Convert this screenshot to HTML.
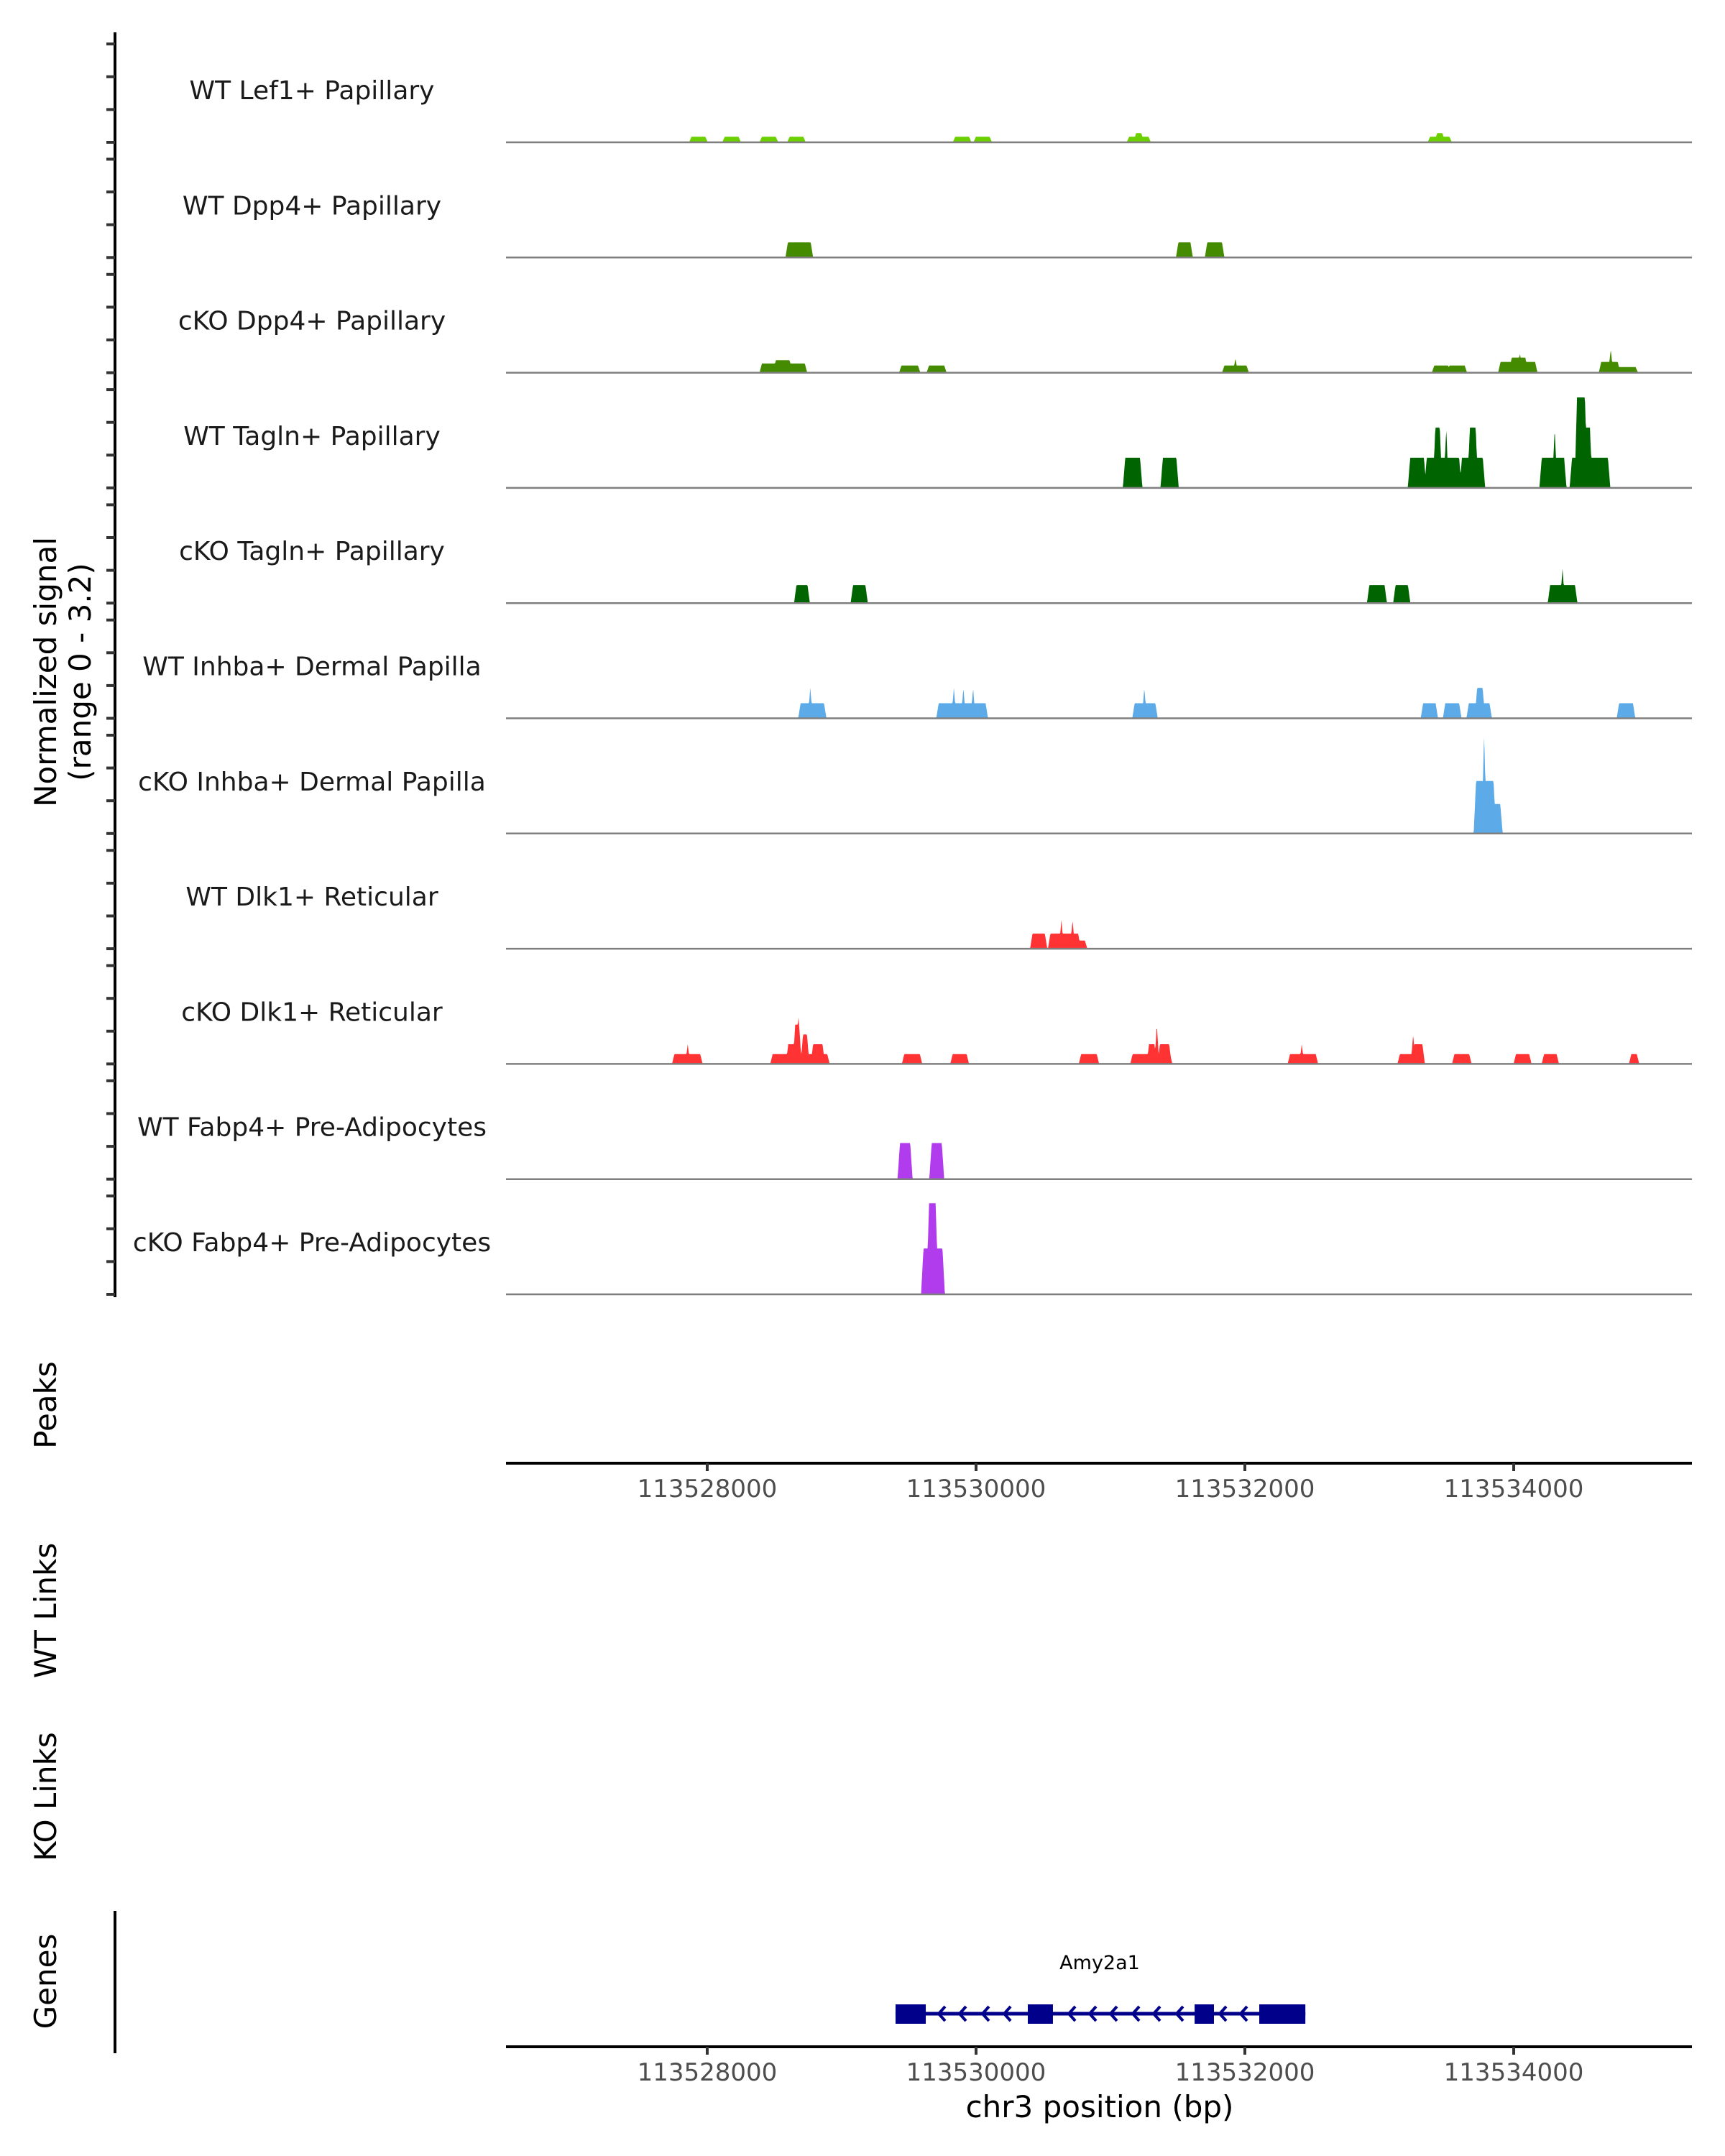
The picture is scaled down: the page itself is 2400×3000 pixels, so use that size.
<!DOCTYPE html>
<html><head><meta charset="utf-8"><style>
html,body{margin:0;padding:0;background:#fff;}
svg{display:block;}
text{font-family:"DejaVu Sans","Liberation Sans",sans-serif;}
</style></head><body>
<svg id="chart" width="2400" height="3000" viewBox="0 0 2400 3000" xmlns="http://www.w3.org/2000/svg">
<g id="tracks"></g>
<line x1="160" y1="45" x2="160" y2="1805" stroke="#000" stroke-width="4"/>
<g id="yticks"></g>
<text transform="translate(78,935) rotate(-90)" text-anchor="middle" font-size="42" fill="#000">Normalized signal</text>
<text transform="translate(126,935) rotate(-90)" text-anchor="middle" font-size="42" fill="#000">(range 0 - 3.2)</text>
<text transform="translate(78,1955) rotate(-90)" text-anchor="middle" font-size="42" fill="#000">Peaks</text>
<g id="axis1"></g>
<text transform="translate(78,2241) rotate(-90)" text-anchor="middle" font-size="42" fill="#000">WT Links</text>
<text transform="translate(78,2500) rotate(-90)" text-anchor="middle" font-size="42" fill="#000">KO Links</text>
<text transform="translate(78,2757) rotate(-90)" text-anchor="middle" font-size="42" fill="#000">Genes</text>
<line x1="160" y1="2659" x2="160" y2="2857" stroke="#000" stroke-width="4"/>
<g id="gene"></g>
<g id="axis2"></g>
<text x="1530" y="2946" text-anchor="middle" font-size="42" fill="#000">chr3 position (bp)</text>
</svg>
<script>
const NS="http://www.w3.org/2000/svg";
const trackNames=["WT Lef1+ Papillary","WT Dpp4+ Papillary","cKO Dpp4+ Papillary","WT Tagln+ Papillary","cKO Tagln+ Papillary","WT Inhba+ Dermal Papilla","cKO Inhba+ Dermal Papilla","WT Dlk1+ Reticular","cKO Dlk1+ Reticular","WT Fabp4+ Pre-Adipocytes","cKO Fabp4+ Pre-Adipocytes"];
const trackColors=["#6CCF00","#458B00","#458B00","#006400","#006400","#5DAAE8","#5DAAE8","#FF3333","#FF3333","#B03CEE","#B03CEE"];
const xTicks=[113528000,113530000,113532000,113534000];
const xTickLabels=["113528000","113530000","113532000","113534000"];
const yTicks=[0,1,2,3];
const regionStart=113526503, regionEnd=113535326;
// peaks: [startBp, endBp, signal]
const lef1WT=[[113527883,113527986,0.17],[113528130,113528233,0.17],[113528407,113528510,0.17],[113528613,113528715,0.17],[113529845,113529948,0.17],[113529999,113530101,0.17],[113531139,113531283,0.17],[113531190,113531230,0.28],[113533378,113533522,0.17],[113533430,113533470,0.28]];
const dpp4WT=[[113528600,113528770,0.46],[113531505,113531595,0.46],[113531720,113531830,0.46]];
const dpp4KO=[[113528407,113528726,0.28],[113528510,113528613,0.38],[113529445,113529568,0.22],[113529650,113529763,0.22],[113531848,113532012,0.22],[113531930,113531930,0.44],[113533409,113533512,0.22],[113533522,113533635,0.22],[113533902,113534159,0.33],[113533985,113534087,0.46],[113534046,113534046,0.6],[113534651,113534774,0.33],[113534722,113534722,0.72],[113534774,113534907,0.17]];
const taglnWT=[[113531110,113531220,0.92],[113531390,113531490,0.92],[113533230,113533332,0.92],[113533353,113533594,0.92],[113533417,113533450,1.84],[113533498,113533498,1.84],[113533615,113533770,0.92],[113533674,113533717,1.84],[113534209,113534375,0.92],[113534305,113534305,1.84],[113534434,113534567,0.92],[113534471,113534530,2.76],[113534530,113534567,1.84],[113534572,113534701,0.92]];
const taglnKO=[[113528664,113528746,0.55],[113529085,113529177,0.55],[113532926,113533039,0.55],[113533121,113533213,0.55],[113534271,113534456,0.55],[113534363,113534363,1.05]];
const inhbaWT=[[113528695,113528869,0.46],[113528767,113528767,0.93],[113529722,113530071,0.46],[113529835,113529835,0.93],[113529906,113529906,0.93],[113529978,113529978,0.93],[113531180,113531334,0.46],[113531252,113531252,0.93],[113533326,113533419,0.46],[113533491,113533594,0.46],[113533666,113533820,0.46],[113533728,113533769,0.93],[113534784,113534887,0.46]];
const inhbaKO=[[113533720,113533850,1.6],[113533850,113533900,0.9],[113533780,113533780,3.1]];
const dlk1WT=[[113530420,113530512,0.46],[113530553,113530760,0.46],[113530760,113530810,0.25],[113530635,113530635,0.88],[113530718,113530718,0.88]];
const dlk1KO=[[113527756,113527948,0.3],[113527855,113527855,0.6],[113528487,113528893,0.3],[113528603,113528643,0.6],[113528655,113528684,1.2],[113528678,113528678,1.5],[113528713,113528742,0.9],[113528788,113528858,0.6],[113529466,113529582,0.3],[113529826,113529930,0.3],[113530782,113530898,0.3],[113531165,113531443,0.3],[113531287,113531327,0.6],[113531345,113531345,1.2],[113531368,113531437,0.6],[113532336,113532527,0.3],[113532423,113532423,0.6],[113533153,113533321,0.3],[113533252,113533252,0.9],[113533260,113533321,0.6],[113533559,113533669,0.3],[113534017,113534115,0.3],[113534226,113534319,0.3],[113534875,113534916,0.3]];
const fabp4WT=[[113529434,113529510,1.1],[113529670,113529745,1.1]];
const fabp4KO=[[113529609,113529750,1.4],[113529650,113529700,2.78]];
const trackPeaks=[lef1WT,dpp4WT,dpp4KO,taglnWT,taglnKO,inhbaWT,inhbaKO,dlk1WT,dlk1KO,fabp4WT,fabp4KO];
const geneExons=[[113529401,113529626],[113530385,113530572],[113531626,113531770],[113532107,113532450]];
const geneStrandArrows=[113529738,113529893,113530064,113530225,113530706,113530861,113531016,113531182,113531337,113531508,113531829,113531984];

const X0=704,X1=2354;
function xs(bp){return X0+(bp-regionStart)/(regionEnd-regionStart)*(X1-X0);}
const trackStep=160.3,pxPerUnit=45.6;
function baseY(i){return 198+i*trackStep;}
function ys(i,v){return baseY(i)-v*pxPerUnit;}
function sig(peaks,bp){let m=0;for(const p of peaks){const r=18;let v=0;
 if(bp>=p[0]&&bp<=p[1])v=p[2];else if(bp<p[0]&&bp>p[0]-r)v=p[2]*(bp-(p[0]-r))/r;else if(bp>p[1]&&bp<p[1]+r)v=p[2]*((p[1]+r)-bp)/r;
 if(v>m)m=v;}return m;}
const tracksG=document.getElementById('tracks');
const ytG=document.getElementById('yticks');
trackNames.forEach((name,i)=>{
 const g=document.createElementNS(NS,'g');
 
 
 tracksG.appendChild(g);
 const t=document.createElementNS(NS,'text');
 
 
 t.setAttribute('x',434);t.setAttribute('y',baseY(i)-60);t.setAttribute('text-anchor','middle');t.setAttribute('font-size','36');t.setAttribute('fill','#1a1a1a');
 t.textContent=name;g.appendChild(t);
 let d='M'+xs(regionStart)+','+baseY(i);
 for(let bp=regionStart;bp<=regionEnd;bp+=4){d+=' L'+xs(bp).toFixed(1)+','+ys(i,sig(trackPeaks[i],bp)).toFixed(1);}
 d+=' L'+xs(regionEnd)+','+baseY(i)+' Z';
 const p=document.createElementNS(NS,'path');
 
 
 p.setAttribute('d',d);p.setAttribute('fill',trackColors[i]);g.appendChild(p);
 const l=document.createElementNS(NS,'line');
 
 
 l.setAttribute('x1',X0);l.setAttribute('x2',X1);l.setAttribute('y1',baseY(i));l.setAttribute('y2',baseY(i));l.setAttribute('stroke','#7f7f7f');l.setAttribute('stroke-width','2.5');g.appendChild(l);
 yTicks.forEach(v=>{const tk=document.createElementNS(NS,'line');
  
  
  tk.setAttribute('x1',148);tk.setAttribute('x2',160);tk.setAttribute('y1',ys(i,v));tk.setAttribute('y2',ys(i,v));tk.setAttribute('stroke','#333');tk.setAttribute('stroke-width','4');ytG.appendChild(tk);});
});
function drawAxis(gid,y){const g=document.getElementById(gid);
 const l=document.createElementNS(NS,'line');
 
 
 l.setAttribute('x1',X0);l.setAttribute('x2',X1);l.setAttribute('y1',y);l.setAttribute('y2',y);l.setAttribute('stroke','#000');l.setAttribute('stroke-width','4');g.appendChild(l);
 xTicks.forEach((v,k)=>{const tk=document.createElementNS(NS,'line');
  
  
  tk.setAttribute('x1',xs(v));tk.setAttribute('x2',xs(v));tk.setAttribute('y1',y);tk.setAttribute('y2',y+11);tk.setAttribute('stroke','#333');tk.setAttribute('stroke-width','4');g.appendChild(tk);
  const t=document.createElementNS(NS,'text');
  
  
  t.setAttribute('x',xs(v));t.setAttribute('y',y+47);t.setAttribute('text-anchor','middle');t.setAttribute('font-size','34');t.setAttribute('fill','#4d4d4d');t.textContent=xTickLabels[k];g.appendChild(t);});}
drawAxis('axis1',2036);
drawAxis('axis2',2848);
const gg=document.getElementById('gene');const gy=2802;
const gl=document.createElementNS(NS,'line');


gl.setAttribute('x1',xs(geneExons[0][0]));gl.setAttribute('x2',xs(geneExons[geneExons.length-1][1]));gl.setAttribute('y1',gy);gl.setAttribute('y2',gy);gl.setAttribute('stroke','#00008B');gl.setAttribute('stroke-width','5');gg.appendChild(gl);
geneStrandArrows.forEach(b=>{const a=document.createElementNS(NS,'path');
 
 
 const x=xs(b);a.setAttribute('d','M'+(x+6)+','+(gy-10)+' L'+(x-3)+','+gy+' L'+(x+6)+','+(gy+10));a.setAttribute('fill','none');a.setAttribute('stroke','#00008B');a.setAttribute('stroke-width','4');gg.appendChild(a);});
geneExons.forEach(e=>{const r=document.createElementNS(NS,'rect');
 
 
 r.setAttribute('x',xs(e[0]));r.setAttribute('width',xs(e[1])-xs(e[0]));r.setAttribute('y',gy-13);r.setAttribute('height',27);r.setAttribute('fill','#00008B');gg.appendChild(r);});
const gt=document.createElementNS(NS,'text');


gt.setAttribute('x',1530);gt.setAttribute('y',2740);gt.setAttribute('text-anchor','middle');gt.setAttribute('font-size','27');gt.setAttribute('fill','#000');gt.textContent='Amy2a1';gg.appendChild(gt);
</script>
</body></html>
